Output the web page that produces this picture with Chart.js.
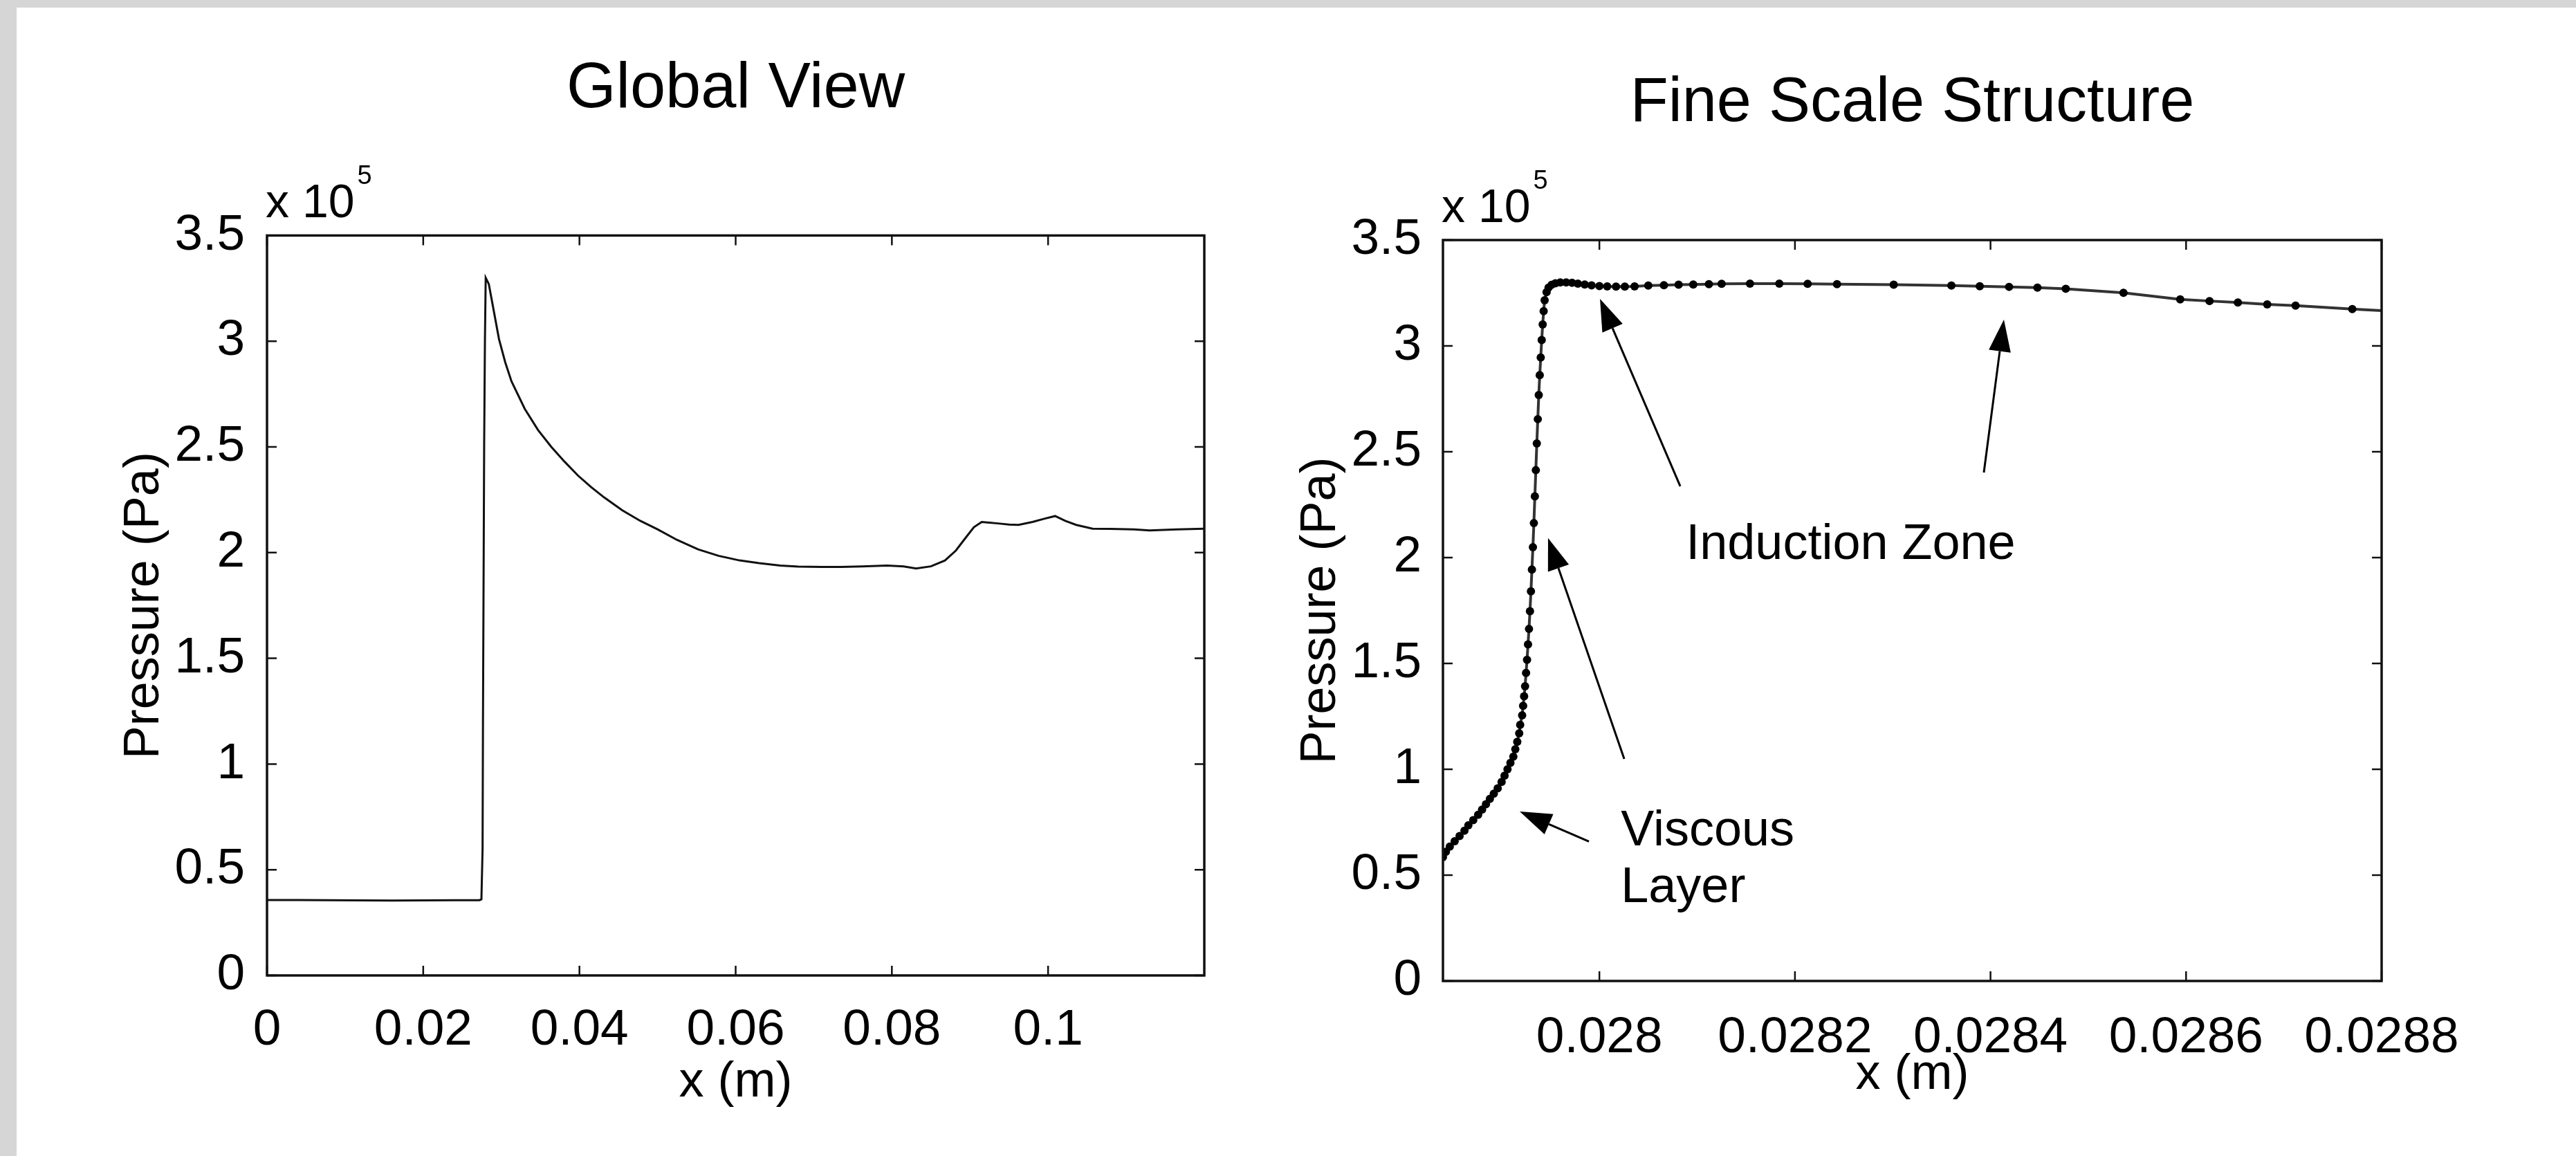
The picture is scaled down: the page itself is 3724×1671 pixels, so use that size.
<!DOCTYPE html>
<html><head><meta charset="utf-8">
<script src="https://cdn.jsdelivr.net/npm/chart.js@4.4.1/dist/chart.umd.min.js"></script>
<style>
html,body{margin:0;padding:0;background:#fff;}
body{width:3724px;height:1671px;position:relative;overflow:hidden;}
.wrap{position:absolute;top:0;width:1862px;height:1671px;}
#gt{position:absolute;left:0;top:0;width:3724px;height:11px;background:#d6d6d6;}
#gl{position:absolute;left:0;top:0;width:24px;height:1671px;background:#d6d6d6;}
</style></head><body>
<div class="wrap" style="left:0"><canvas id="c1" width="1862" height="1671"></canvas></div>
<div class="wrap" style="left:1862px"><canvas id="c2" width="1862" height="1671"></canvas></div>
<div id="gt"></div><div id="gl"></div>
<script>
// ---- data (pressure in units of 1e5 Pa, x in m) ----
const globalX = [0, 0.004, 0.008, 0.012, 0.016, 0.02, 0.024, 0.0272, 0.02745, 0.0276, 0.02765, 0.0278, 0.0279, 0.0280, 0.0284, 0.0288, 0.029, 0.0297, 0.0305, 0.0313, 0.033, 0.0347, 0.0364, 0.0381, 0.0398, 0.0415, 0.0432, 0.0455, 0.0478, 0.05, 0.0525, 0.0552, 0.0578, 0.0605, 0.063, 0.0657, 0.068, 0.071, 0.0735, 0.0762, 0.0794, 0.0815, 0.0831, 0.085, 0.0868, 0.0882, 0.0894, 0.0905, 0.0915, 0.0925, 0.0936, 0.095, 0.0962, 0.098, 0.0995, 0.1009, 0.1022, 0.1036, 0.1057, 0.108, 0.111, 0.113, 0.1165, 0.12];
const globalP = [0.357, 0.357, 0.356, 0.355, 0.354, 0.355, 0.356, 0.356, 0.36, 0.6, 1.2, 2.5, 3.0, 3.30, 3.27, 3.19, 3.15, 3.01, 2.90, 2.81, 2.68, 2.58, 2.50, 2.43, 2.365, 2.31, 2.26, 2.20, 2.15, 2.11, 2.06, 2.015, 1.985, 1.963, 1.95, 1.939, 1.934, 1.932, 1.932, 1.935, 1.939, 1.935, 1.925, 1.935, 1.963, 2.01, 2.068, 2.12, 2.145, 2.142, 2.138, 2.133, 2.131, 2.145, 2.16, 2.173, 2.15, 2.131, 2.113, 2.112, 2.11, 2.105, 2.11, 2.113];

const fineX = [0.027840, 0.027843, 0.027847, 0.027852, 0.027857, 0.027862, 0.027866, 0.027871, 0.027876, 0.027880,
  0.027884, 0.027888, 0.027892, 0.027896, 0.027900, 0.027903, 0.027906, 0.027909, 0.027912, 0.027914, 0.027916, 0.027918, 0.027919, 0.027921, 0.027922,
  0.027923, 0.027924, 0.027925, 0.027926, 0.027927, 0.027928, 0.027929, 0.027930, 0.027931, 0.027932, 0.027933, 0.027934, 0.027935, 0.027936, 0.027937, 0.027938, 0.027939, 0.027940, 0.027941, 0.027942, 0.027943, 0.027944, 0.027946, 0.027948, 0.027951, 0.027955, 0.027960, 0.027966, 0.027972, 0.027978, 0.027985, 0.027992,
  0.028000, 0.028008, 0.028017, 0.028026, 0.028036, 0.028050, 0.028066, 0.028081, 0.028096, 0.028112, 0.028125, 0.028154, 0.028184, 0.028213, 0.028243, 0.028301, 0.028360, 0.028389, 0.028419, 0.028448, 0.028477, 0.028536, 0.028594, 0.028624, 0.028653, 0.028683, 0.028712, 0.028770, 0.028830];
const fineP = [0.585, 0.61, 0.635, 0.66, 0.685, 0.71, 0.735, 0.76, 0.785, 0.81,
  0.835, 0.86, 0.885, 0.91, 0.94, 0.97, 1.0, 1.03, 1.06, 1.095, 1.13, 1.17, 1.21, 1.255, 1.30,
  1.345, 1.392, 1.455, 1.517, 1.59, 1.663, 1.747, 1.841, 1.944, 2.049, 2.163, 2.289, 2.413, 2.539, 2.654, 2.768, 2.862, 2.945, 3.028, 3.101, 3.164, 3.216, 3.254, 3.275, 3.288, 3.296, 3.300, 3.300, 3.298, 3.294, 3.290, 3.286,
  3.283, 3.281, 3.280, 3.280, 3.281, 3.285, 3.287, 3.289, 3.290, 3.292, 3.293, 3.294, 3.294, 3.293, 3.292, 3.289, 3.285, 3.282, 3.279, 3.275, 3.270, 3.251, 3.220, 3.212, 3.205, 3.196, 3.190, 3.174, 3.160];

const yTicks = [0, 0.5, 1, 1.5, 2, 2.5, 3, 3.5];
const yTickLabels = ['0', '0.5', '1', '1.5', '2', '2.5', '3', '3.5'];
const globalXTicks = [0, 0.02, 0.04, 0.06, 0.08, 0.1];
const globalXTickLabels = ['0', '0.02', '0.04', '0.06', '0.08', '0.1'];
const fineXTicks = [0.028, 0.0282, 0.0284, 0.0286, 0.0288];
const fineXTickLabels = ['0.028', '0.0282', '0.0284', '0.0286', '0.0288'];

// annotations for fine-scale panel (data coordinates)
const arrows = [
  {from: [0.0280827, 2.337], to: [0.0280006, 3.222]},
  {from: [0.0283932, 2.402], to: [0.0284137, 3.124]},
  {from: [0.0280254, 1.049], to: [0.0279475, 2.092]},
  {from: [0.0279893, 0.6585], to: [0.0279185, 0.8007]}
];
const notes = [
  {text: 'Induction Zone', at: [0.028257, 1.993], align: 'center'},
  {text: 'Viscous', at: [0.028022, 0.64], align: 'left'},
  {text: 'Layer', at: [0.028022, 0.3725], align: 'left'}
];

const FONT = "'Liberation Sans', Arial, Helvetica, sans-serif";
Chart.defaults.font.family = FONT;
Chart.defaults.color = '#000';

const frameTicks = {
  id: 'frameTicks',
  afterDatasetsDraw(chart) {
    const {ctx, chartArea: a, scales: {x, y}} = chart;
    const L = 14;
    ctx.save();
    ctx.strokeStyle = '#111';
    ctx.lineWidth = 2.5;
    ctx.beginPath();
    x.ticks.forEach(t => {
      const px = x.getPixelForValue(t.value);
      ctx.moveTo(px, a.bottom); ctx.lineTo(px, a.bottom - L);
      ctx.moveTo(px, a.top); ctx.lineTo(px, a.top + L);
    });
    y.ticks.forEach(t => {
      const py = y.getPixelForValue(t.value);
      ctx.moveTo(a.left, py); ctx.lineTo(a.left + L, py);
      ctx.moveTo(a.right, py); ctx.lineTo(a.right - L, py);
    });
    ctx.stroke();
    ctx.lineWidth = 3.5;
    ctx.strokeRect(a.left, a.top, a.right - a.left, a.bottom - a.top);
    // exponent label
    ctx.fillStyle = '#000';
    ctx.textBaseline = 'alphabetic';
    ctx.textAlign = 'left';
    ctx.font = '68px ' + FONT;
    const ex = a.left - 2, ey = a.top - 26;
    ctx.fillText('x 10', ex, ey);
    const w = ctx.measureText('x 10').width;
    ctx.font = '38px ' + FONT;
    ctx.fillText('5', ex + w + 4, ey - 48);
    ctx.restore();
  }
};

const annot = {
  id: 'annot',
  afterDatasetsDraw(chart, args, opts) {
    if (!opts.on) return;
    const {ctx, scales: {x, y}} = chart;
    ctx.save();
    ctx.strokeStyle = '#000';
    ctx.fillStyle = '#000';
    ctx.lineWidth = 3;
    arrows.forEach(ar => {
      const x0 = x.getPixelForValue(ar.from[0]), y0 = y.getPixelForValue(ar.from[1]);
      const x1 = x.getPixelForValue(ar.to[0]), y1 = y.getPixelForValue(ar.to[1]);
      const ang = Math.atan2(y1 - y0, x1 - x0);
      const hl = 46, hw = 16;
      const bx = x1 - hl * Math.cos(ang), by = y1 - hl * Math.sin(ang);
      ctx.beginPath(); ctx.moveTo(x0, y0); ctx.lineTo(bx, by); ctx.stroke();
      ctx.beginPath();
      ctx.moveTo(x1, y1);
      ctx.lineTo(bx + hw * Math.sin(ang), by - hw * Math.cos(ang));
      ctx.lineTo(bx - hw * Math.sin(ang), by + hw * Math.cos(ang));
      ctx.closePath(); ctx.fill();
    });
    ctx.font = '72px ' + FONT;
    ctx.textBaseline = 'alphabetic';
    notes.forEach(n => {
      ctx.textAlign = n.align;
      ctx.fillText(n.text, x.getPixelForValue(n.at[0]), y.getPixelForValue(n.at[1]));
    });
    ctx.restore();
  }
};

function makeChart(id, cfg) {
  const pts = cfg.xs.map((v, i) => ({x: v, y: cfg.ys[i]}));
  return new Chart(document.getElementById(id), {
    type: 'line',
    data: {datasets: [{
      data: pts,
      borderColor: cfg.lineColor,
      borderWidth: cfg.lineWidth,
      pointRadius: cfg.pointRadius,
      pointBackgroundColor: '#000',
      pointBorderWidth: 0,
      tension: 0,
      fill: false
    }]},
    options: {
      responsive: false,
      animation: false,
      devicePixelRatio: 1,
      layout: {padding: {left: 0, top: 0, bottom: 0, right: cfg.padRight}},
      plugins: {
        legend: {display: false},
        tooltip: {enabled: false},
        title: {
          display: true, text: cfg.title, fullSize: false,
          font: {size: cfg.titleSize, weight: 'normal'}, color: '#000',
          padding: {top: cfg.titleTop, bottom: cfg.titleBottom}
        },
        annot: {on: cfg.annot}
      },
      scales: {
        x: {
          type: 'linear', min: cfg.xMin, max: cfg.xMax,
          grid: {display: false}, border: {display: false},
          afterBuildTicks: s => { s.ticks = cfg.xTicks.map(v => ({value: v})); },
          afterFit: s => { s.height = cfg.xAxisH; },
          ticks: {font: {size: 73}, padding: cfg.xTickPad, maxRotation: 0, autoSkip: false,
                  callback: (v, i) => cfg.xLabels[i]},
          title: {display: true, text: 'x (m)', font: {size: 72}, padding: {top: 0, bottom: cfg.xTitlePad}}
        },
        y: {
          type: 'linear', min: 0, max: 3.5,
          grid: {display: false}, border: {display: false},
          afterBuildTicks: s => { s.ticks = yTicks.map(v => ({value: v})); },
          afterFit: s => { s.width = cfg.yAxisW; },
          ticks: {font: {size: 73}, padding: cfg.yTickPad, autoSkip: false,
                  callback: (v, i) => yTickLabels[i]},
          title: {display: true, text: 'Pressure (Pa)', font: {size: 72}, padding: {top: cfg.yTitlePad, bottom: 0}}
        }
      }
    },
    plugins: [frameTicks, annot]
  });
}

makeChart('c1', {
  xs: globalX, ys: globalP, title: 'Global View', titleSize: 92,
  lineColor: '#111', lineWidth: 3, pointRadius: 0,
  xMin: 0, xMax: 0.12, xTicks: globalXTicks, xLabels: globalXTickLabels,
  padRight: 121, titleTop: 74, titleBottom: 156,
  xAxisH: 261, yAxisW: 386, xTickPad: 28, yTickPad: 24,
  xTitlePad: 63, yTitlePad: 166, annot: false
});
makeChart('c2', {
  xs: fineX, ys: fineP, title: 'Fine Scale Structure', titleSize: 90,
  lineColor: '#333', lineWidth: 4, pointRadius: 6,
  xMin: 0.02784, xMax: 0.0288, xTicks: fineXTicks, xLabels: fineXTickLabels,
  padRight: 281, titleTop: 96, titleBottom: 143,
  xAxisH: 253, yAxisW: 224, xTickPad: 31, yTickPad: 23,
  xTitlePad: 74, yTitlePad: 5, annot: true
});
</script>
</body></html>
